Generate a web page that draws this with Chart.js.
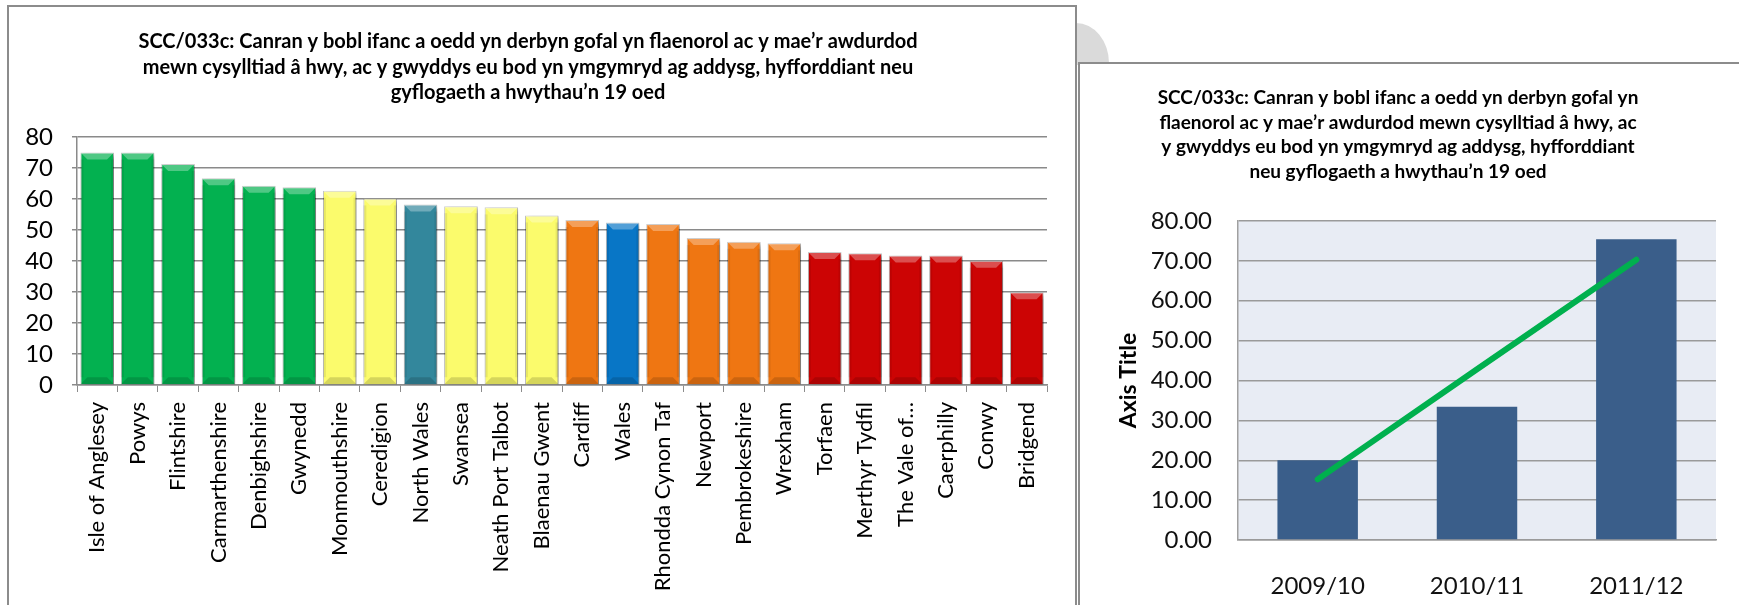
<!DOCTYPE html>
<html>
<head>
<meta charset="utf-8">
<script src="https://cdn.jsdelivr.net/npm/chart.js@4.4.1/dist/chart.umd.min.js"></script>
<style>
    body { margin: 0; background: #fff; width: 1739px; height: 605px; overflow: hidden; position: relative; font-family: Lato, sans-serif; }
    .frame { position: absolute; border: 2px solid #8c8c8c; background: #fff; box-sizing: border-box; }
    #blob { position: absolute; left: 1076px; top: 23px; width: 33px; height: 42px; background: #dadada; border-top-right-radius: 33px 40px; }
    canvas { position: absolute; }
</style>
</head>
<body>
<div id="blob"></div>
<div class="frame" style="left:7px; top:5px; width:1070px; height:700px;"></div>
<div class="frame" style="left:1078px; top:62px; width:700px; height:600px;"></div>
<canvas id="leftChart" width="1066" height="598" style="left:9px; top:7px;"></canvas>
<canvas id="rightChart" width="659" height="541" style="left:1080px; top:64px;"></canvas>
<script>
const areas = ['Isle of Anglesey', 'Powys', 'Flintshire', 'Carmarthenshire', 'Denbighshire', 'Gwynedd',
    'Monmouthshire', 'Ceredigion', 'North Wales', 'Swansea', 'Neath Port Talbot', 'Blaenau Gwent',
    'Cardiff', 'Wales', 'Rhondda Cynon Taf', 'Newport', 'Pembrokeshire', 'Wrexham',
    'Torfaen', 'Merthyr Tydfil', 'The Vale of…', 'Caerphilly', 'Conwy', 'Bridgend'];
const areaValues = [75.0, 75.0, 71.3, 66.7, 64.3, 63.8, 62.7, 60.2, 58.2, 57.7, 57.3, 54.7,
    53.2, 52.4, 51.9, 47.4, 46.2, 45.7, 42.9, 42.5, 41.8, 41.8, 40.1, 29.9];
const leftTicks = [0, 10, 20, 30, 40, 50, 60, 70, 80];

const years = ['2009/10', '2010/11', '2011/12'];
const yearValues = [20.0, 33.4, 75.4];
const trendValues = [15.2, 42.8, 70.3];
const rightTicks = [0, 10, 20, 30, 40, 50, 60, 70, 80];

const leftTitle = [
    'SCC/033c: Canran y bobl ifanc a oedd yn derbyn gofal yn flaenorol ac y mae’r awdurdod',
    'mewn cysylltiad â hwy, ac y gwyddys eu bod yn ymgymryd ag addysg, hyfforddiant neu',
    'gyflogaeth a hwythau’n 19 oed'
];
const rightTitle = [
    'SCC/033c: Canran y bobl ifanc a oedd yn derbyn gofal yn',
    'flaenorol ac y mae’r awdurdod mewn cysylltiad â hwy, ac',
    'y gwyddys eu bod yn ymgymryd ag addysg, hyfforddiant',
    'neu gyflogaeth a hwythau’n 19 oed'
];

// colour groups, one per bar
const G = '#03b150', Y = '#fbfb6c', T = '#33879c', O = '#ef7612', B = '#0876c6', R = '#cc0404';
const barColours = [G, G, G, G, G, G, Y, Y, T, Y, Y, Y, O, B, O, O, O, O, R, R, R, R, R, R];

Chart.defaults.font.family = 'Lato, sans-serif';
Chart.defaults.color = '#000';

// drop shadow + bevel to fake the excel 3d bars
const bevelPlugin = {
    id: 'bevel',
    beforeDatasetsDraw(chart) {
        const ctx = chart.ctx;
        ctx.save();
        ctx.shadowColor = 'rgba(0,0,0,0.35)';
        ctx.shadowBlur = 4;
        ctx.shadowOffsetX = 3;
        ctx.shadowOffsetY = 2;
    },
    afterDatasetsDraw(chart) {
        const ctx = chart.ctx;
        ctx.restore();
        chart.getDatasetMeta(0).data.forEach(bar => {
            const p = bar.getProps(['x', 'y', 'base', 'width'], true);
            const l = p.x - p.width / 2, r = p.x + p.width / 2, b = 7;
            ctx.save();
            ctx.fillStyle = 'rgba(255,255,255,0.3)';
            ctx.beginPath();
            ctx.moveTo(l, p.y); ctx.lineTo(r, p.y); ctx.lineTo(r - b, p.y + b); ctx.lineTo(l + b, p.y + b);
            ctx.closePath(); ctx.fill();
            ctx.fillStyle = 'rgba(0,0,0,0.15)';
            ctx.beginPath();
            ctx.moveTo(l, p.base); ctx.lineTo(r, p.base); ctx.lineTo(r - b, p.base - b); ctx.lineTo(l + b, p.base - b);
            ctx.closePath(); ctx.fill();
            ctx.fillStyle = 'rgba(0,0,0,0.08)';
            ctx.fillRect(l, p.y + b, 3, p.base - p.y - 2 * b);
            ctx.fillRect(r - 3, p.y + b, 3, p.base - p.y - 2 * b);
            ctx.restore();
        });
    }
};

const plotBackground = {
    id: 'plotBackground',
    beforeDraw(chart) {
        const {ctx, chartArea} = chart;
        ctx.save();
        ctx.fillStyle = '#e8ecf4';
        ctx.fillRect(chartArea.left, chartArea.top, chartArea.right - chartArea.left, chartArea.bottom - chartArea.top);
        ctx.restore();
    }
};

function displayLeftChart() {
    const ctx = document.getElementById('leftChart').getContext('2d');
    new Chart(ctx, {
        type: 'bar',
        data: {
            labels: areas,
            datasets: [{
                data: areaValues,
                backgroundColor: barColours,
                borderColor: 'rgba(0,0,0,0.25)',
                borderWidth: 1,
                barPercentage: 0.83,
                categoryPercentage: 1
            }]
        },
        options: {
            responsive: false,
            devicePixelRatio: 1,
            animation: false,
            layout: { padding: { left: 0, right: 28, top: 0, bottom: 0 } },
            plugins: {
                legend: { display: false },
                tooltip: { enabled: false },
                title: {
                    display: true,
                    text: leftTitle,
                    font: { size: 20, weight: 'bold', lineHeight: '25.5px' },
                    color: '#000',
                    padding: { top: 22, bottom: 31.5 }
                }
            },
            scales: {
                x: {
                    afterFit: s => { s.height = 220; },
                    grid: { offset: true, drawOnChartArea: false, drawTicks: true, tickLength: 7, color: '#8c8c8c' },
                    border: { color: '#8c8c8c', width: 1.5 },
                    ticks: { autoSkip: false, maxRotation: 90, minRotation: 90, padding: 10, font: { size: 22 } }
                },
                y: {
                    min: 0,
                    max: 80,
                    afterFit: s => { s.width = 68; },
                    afterBuildTicks: s => { s.ticks = leftTicks.map(v => ({ value: v })); },
                    grid: { color: '#8a8a8a', lineWidth: 1.5, tickLength: 5 },
                    border: { color: '#8a8a8a', width: 1.5 },
                    ticks: { autoSkip: false, padding: 19, font: { size: 24 } }
                }
            }
        },
        plugins: [bevelPlugin]
    });
}

function displayRightChart() {
    const ctx = document.getElementById('rightChart').getContext('2d');
    new Chart(ctx, {
        data: {
            labels: years,
            datasets: [{
                type: 'line',
                data: trendValues,
                borderColor: '#00b04e',
                borderWidth: 6,
                borderCapStyle: 'round',
                pointRadius: 0,
                tension: 0
            }, {
                type: 'bar',
                data: yearValues,
                backgroundColor: '#3a5e8a',
                barPercentage: 0.505,
                categoryPercentage: 1
            }]
        },
        options: {
            responsive: false,
            devicePixelRatio: 1,
            animation: false,
            layout: { padding: { left: 0, right: 23, top: 0, bottom: 0 } },
            plugins: {
                legend: { display: false },
                tooltip: { enabled: false },
                title: {
                    display: true,
                    text: rightTitle,
                    font: { size: 19, weight: 'bold', lineHeight: '24.5px' },
                    color: '#000',
                    padding: { top: 22, bottom: 37 }
                }
            },
            scales: {
                x: {
                    afterFit: s => { s.height = 65; },
                    grid: { display: false },
                    border: { color: '#9a9a9a', width: 1.5 },
                    ticks: { padding: 24, font: { size: 24 }, color: '#111' }
                },
                y: {
                    min: 0,
                    max: 80,
                    afterFit: s => { s.width = 158; },
                    afterBuildTicks: s => { s.ticks = rightTicks.map(v => ({ value: v })); },
                    grid: { color: '#9a9a9a', lineWidth: 1.5, drawTicks: false },
                    border: { color: '#a0a0a0', width: 1.5 },
                    ticks: { autoSkip: false, padding: 26, font: { size: 24 }, color: '#111', callback: v => v.toFixed(2) },
                    title: {
                        display: true,
                        text: 'Axis Title',
                        font: { size: 23, weight: 'bold', lineHeight: 1.2 },
                        color: '#000',
                        padding: { top: 35, bottom: 0 }
                    }
                }
            }
        },
        plugins: [plotBackground]
    });
}

displayLeftChart();
displayRightChart();
</script>
</body>
</html>
